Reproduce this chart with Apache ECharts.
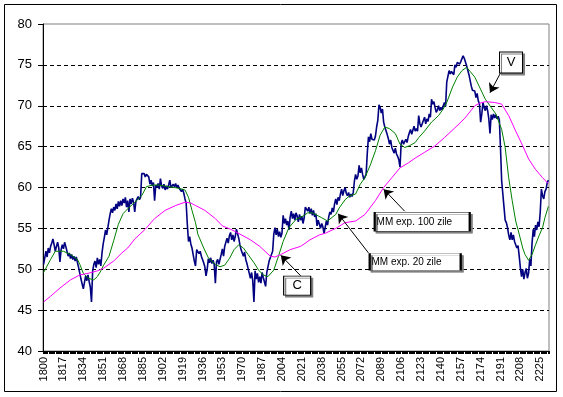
<!DOCTYPE html>
<html>
<head>
<meta charset="utf-8">
<script src="https://cdn.jsdelivr.net/npm/echarts@6/dist/echarts.min.js"></script>
<style>
html,body{margin:0;padding:0;background:#fff;}
#main{width:563px;height:397px;}
</style>
</head>
<body>
<div id="main"></div>
<script>
// ani: 1800 .. 2232, eticheta la fiecare 17 categorii
var firstYear = 1800, lastYear = 2232;
var years = [];
for (var y = firstYear; y <= lastYear; y++) years.push(String(y));

// pretul (linia albastra)
var price = [
 50.6,51.4,52.2,51.5,52.6,52.0,52.8,53.2,53.7,53.0,
 52.2,52.8,53.3,52.6,50.9,52.4,53.0,52.5,53.3,52.8,
 52.2,51.6,52.0,51.3,51.8,51.2,51.6,51.0,51.5,50.8,
 50.2,49.5,48.8,48.2,47.6,48.4,49.2,48.6,49.3,48.5,
 47.8,46.0,49.8,50.6,51.0,50.2,51.4,50.6,51.2,50.4,
 52.0,53.1,53.9,54.8,54.2,55.1,56.0,56.8,57.4,56.9,
 57.6,57.2,58.0,57.4,58.3,57.7,58.4,57.8,58.6,58.1,
 58.8,57.6,58.4,57.0,58.6,58.0,58.7,58.2,57.0,58.3,
 58.6,58.9,58.5,58.8,61.7,61.5,61.7,61.3,61.6,61.4,
 61.3,60.4,60.9,60.2,60.6,58.4,60.3,60.0,60.5,59.8,
 61.1,60.2,59.9,60.4,59.7,60.2,59.8,60.3,60.9,60.0,
 59.8,60.4,60.1,60.5,60.0,60.3,59.9,60.1,59.5,59.8,
 59.3,58.6,58.1,55.5,53.4,54.0,53.1,52.6,51.8,51.0,
 50.4,52.4,52.6,51.9,52.2,51.6,51.2,50.8,50.3,49.2,
 50.0,51.3,50.8,51.4,50.7,51.1,50.6,48.3,50.9,51.2,
 50.6,50.8,51.8,52.5,51.6,52.8,53.3,53.8,53.2,54.1,
 54.5,53.6,54.2,53.4,54.0,54.9,55.1,53.8,53.0,52.4,
 52.0,51.6,52.1,51.2,50.7,50.1,49.5,48.9,49.6,48.6,
 46.0,49.8,48.8,49.5,48.4,49.1,48.3,49.6,49.0,48.9,
 47.9,49.6,50.3,51.0,51.4,51.8,52.2,54.3,55.1,54.2,
 54.9,54.0,54.6,53.9,54.4,56.6,55.6,56.2,55.4,55.9,
 54.8,56.4,57.1,56.2,56.8,56.0,56.9,56.5,55.8,56.7,
 56.0,56.5,55.6,56.3,57.6,57.8,57.1,57.6,56.8,57.4,
 56.6,57.2,56.4,56.8,55.3,56.0,55.5,55.0,55.6,55.2,
 54.4,54.6,55.9,55.4,56.4,57.0,56.7,57.5,57.0,58.0,
 58.6,57.9,58.8,58.4,59.2,59.8,59.0,59.6,60.0,59.3,
 59.0,59.4,58.8,59.2,58.9,59.4,60.8,61.6,61.0,61.4,
 62.7,61.8,62.4,61.6,61.0,60.8,61.6,64.2,66.2,65.6,
 66.6,65.9,66.0,65.8,66.3,67.4,68.2,70.1,69.8,69.1,
 69.6,68.0,67.4,67.6,66.5,66.0,65.3,65.8,64.9,65.1,
 64.2,64.8,64.1,63.8,63.4,62.5,65.4,65.8,65.3,65.6,
 65.9,65.5,66.2,66.7,67.1,66.5,67.0,67.5,66.9,67.2,
 66.9,68.8,67.8,67.4,67.6,68.2,68.6,67.8,68.4,68.1,
 69.0,68.6,70.8,70.2,70.5,69.8,69.2,69.5,70.0,69.4,
 69.8,69.5,70.0,70.4,69.9,72.9,73.6,74.3,73.9,74.2,
 74.0,73.8,75.0,74.7,75.3,75.5,75.1,75.4,75.2,76.1,
 75.8,75.7,74.9,74.7,73.8,73.1,72.4,71.9,72.1,71.8,
 71.0,71.5,70.6,70.2,68.0,69.0,70.4,69.8,69.4,70.0,
 69.4,68.4,66.6,68.9,68.3,69.0,68.5,68.9,68.4,68.7,
 68.3,64.8,60.8,59.2,57.6,56.0,55.7,55.1,54.2,53.6,
 54.5,53.6,54.2,53.4,53.0,52.6,52.9,51.6,50.2,49.1,
 50.0,48.8,49.6,50.1,48.9,49.5,51.2,50.4,53.2,54.9,
 54.0,55.4,54.8,55.8,55.2,57.0,59.8,59.0,58.6,59.5,
 59.8,60.6,60.9
];

// MM exp. 20 zile (verde) - [index an, valoare]
var ema20 = [
 [0,49.6],[6,51.2],[10,52.2],[17,52.2],[23,51.8],[29,51.2],[31,50.6],[34,49.5],[38,48.9],[43,48.7],
 [46,49.1],[49,49.8],[51,50.4],[56,51.6],[60,53.5],[64,55.5],[68,56.8],[72,57.4],[78,58.2],[84,59.0],
 [88,60.1],[93,60.3],[99,60.3],[107,60.1],[116,59.9],[121,59.7],[124,58.8],[127,57.2],[130,55.7],[132,54.3],
 [137,52.6],[141,51.4],[147,50.6],[151,50.3],[155,50.5],[159,51.3],[163,52.4],[167,53.0],[171,52.6],[175,51.8],
 [180,50.8],[184,49.9],[188,49.3],[192,49.1],[197,49.9],[201,51.6],[205,53.4],[210,55.1],[216,56.1],[222,56.5],
 [226,56.9],[230,56.9],[234,56.6],[238,56.3],[243,55.9],[250,56.7],[253,57.5],[258,58.5],[262,59.0],[267,59.2],
 [271,60.4],[275,61.2],[280,62.9],[284,64.5],[288,66.4],[292,67.4],[296,67.2],[301,66.6],[305,65.3],[309,64.9],
 [313,65.1],[318,65.5],[321,66.1],[326,66.9],[332,68.0],[338,68.8],[342,69.6],[345,70.4],[350,72.3],[354,73.5],
 [358,74.3],[362,74.7],[365,74.2],[369,73.5],[373,72.3],[378,70.8],[383,69.8],[387,69.0],[392,67.1],[395,64.9],
 [398,61.2],[401,58.4],[404,55.9],[407,54.3],[410,52.6],[412,51.8],[415,51.1],[418,51.8],[421,53.0],[424,54.1],
 [427,55.1],[429,56.3],[432,57.7]
];

// MM exp. 100 zile (magenta)
var ema100 = [
 [0,46.0],[6,46.7],[14,47.7],[23,48.7],[31,49.3],[38,49.5],[46,49.8],[51,50.1],[60,51.0],[67,52.0],
 [72,52.6],[78,53.7],[87,54.9],[95,56.2],[104,57.2],[113,57.8],[121,58.2],[126,58.1],[130,57.8],[138,57.2],
 [147,56.2],[153,55.3],[160,54.9],[168,54.3],[177,53.6],[185,52.8],[194,51.6],[198,51.5],[203,51.8],[211,52.4],
 [220,52.8],[228,53.6],[236,54.2],[241,54.4],[250,55.0],[258,55.7],[267,55.9],[275,56.7],[284,58.4],[291,60.0],
 [298,61.2],[305,62.4],[312,63.0],[318,63.6],[326,64.3],[335,65.1],[343,66.1],[352,67.3],[360,68.4],[369,70.0],
 [373,70.3],[378,70.5],[386,70.4],[392,70.2],[398,68.8],[404,66.9],[410,65.1],[415,63.5],[421,62.2],[427,61.2],
 [431,60.6],[432,60.5]
];

// casete de text: [text, index, valoare, latime, inaltime, font]
var boxes = [
 ['C', 217, 48.0, 27, 19, 13],
 ['V', 400, 75.3, 23, 21, 13],
 ['MM exp. 20 zile', 318, 50.9, 91, 17, 10],
 ['MM exp. 100 zile', 324, 55.8, 95, 19, 10]
];
// sageti: [de la index, valoare, la index, valoare]
var arrows = [
 [220, 49.2, 203, 51.7],
 [391, 74.0, 382, 71.6],
 [278, 52.0, 252, 56.8],
 [309, 57.1, 291, 59.8]
];

var FONT = 'Liberation Sans, Arial, sans-serif';

var chart = echarts.init(document.getElementById('main'), null, {renderer: 'canvas'});

var markPts = boxes.map(function (b) {
  var small = b[5] < 12;
  return {
    coord: [b[1], b[2]],
    symbol: 'rect',
    symbolSize: [b[3], b[4]],
    itemStyle: {
      color: '#fff', borderColor: '#000', borderWidth: 1,
      shadowColor: '#808080', shadowOffsetX: 2, shadowOffsetY: 2, shadowBlur: 0
    },
    label: {
      show: true,
      formatter: b[0],
      position: small ? 'insideLeft' : 'inside',
      distance: 3,
      color: '#000',
      fontFamily: FONT,
      fontSize: b[5],
      textBorderWidth: 0,
      textShadowBlur: 0,
      textShadowColor: 'transparent'
    }
  };
});

var markLns = arrows.map(function (a) {
  return [{coord: [a[0], a[1]]}, {coord: [a[2], a[3]]}];
});

var option = {
  animation: false,
  backgroundColor: '#fff',
  grid: {
    left: 43, right: 14, top: 24, bottom: 46,
    show: true, borderColor: '#808080', borderWidth: 1, backgroundColor: 'transparent'
  },
  xAxis: {
    type: 'category',
    data: years,
    boundaryGap: true,
    axisLine: {lineStyle: {color: '#000', width: 1}},
    axisTick: {show: true, interval: 0, length: 3, lineStyle: {color: '#000'}},
    axisLabel: {
      interval: 16, rotate: 90, margin: 6,
      color: '#000', fontFamily: FONT, fontSize: 11
    },
    splitLine: {show: false}
  },
  yAxis: {
    type: 'value',
    min: 40, max: 80, interval: 5,
    axisLine: {show: true, lineStyle: {color: '#000', width: 1}},
    axisTick: {show: true, length: 5, lineStyle: {color: '#000'}},
    axisLabel: {margin: 11, color: '#000', fontFamily: FONT, fontSize: 13},
    splitLine: {
      show: true, showMinLine: false, showMaxLine: false,
      lineStyle: {color: '#000', width: 1, type: [4, 3]}
    }
  },
  series: [
    {
      name: 'Pret',
      type: 'line',
      data: price,
      showSymbol: false,
      lineStyle: {color: '#000080', width: 1.6},
      silent: true
    },
    {
      name: 'MM exp. 20 zile',
      type: 'line',
      data: ema20,
      showSymbol: false,
      lineStyle: {color: '#008000', width: 1},
      silent: true
    },
    {
      name: 'MM exp. 100 zile',
      type: 'line',
      data: ema100,
      showSymbol: false,
      lineStyle: {color: '#ff00ff', width: 1},
      silent: true,
      markLine: {
        silent: true,
        symbol: ['none', 'arrow'],
        symbolSize: 9,
        label: {show: false},
        lineStyle: {color: '#000', width: 1, type: 'solid'},
        data: markLns
      },
      markPoint: {
        silent: true,
        data: markPts
      }
    }
  ],
  graphic: [{
    type: 'rect',
    shape: {x: 4.5, y: 4.5, width: 552, height: 387},
    style: {fill: null, stroke: '#000', lineWidth: 1},
    silent: true
  }]
};

chart.setOption(option);
</script>
</body>
</html>
